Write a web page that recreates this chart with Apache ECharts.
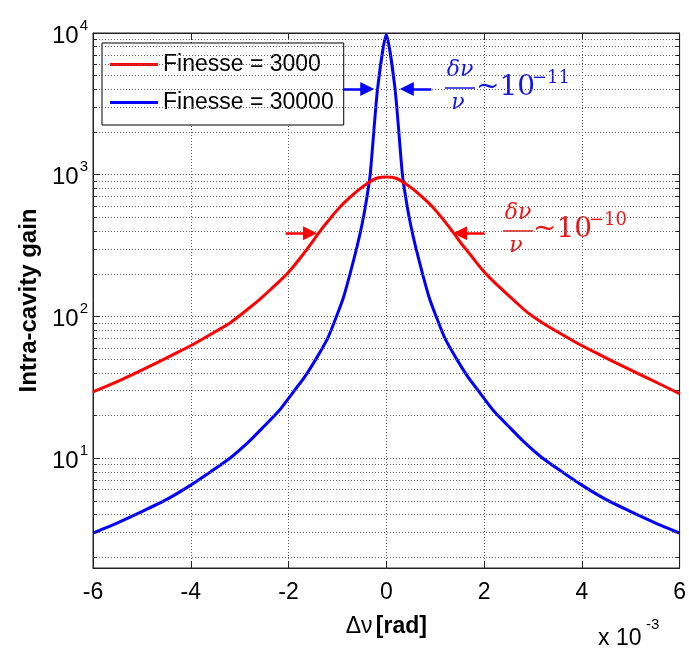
<!DOCTYPE html>
<html>
<head>
<meta charset="utf-8">
<script src="https://cdn.jsdelivr.net/npm/echarts@6/dist/echarts.min.js"></script>
<style>html,body{margin:0;padding:0;background:#fff}#c{width:689px;height:653px}</style>
</head>
<body>
<div id="c"></div>
<script>
// ---- data (x in units of 1e-3 rad) ----
const seriesNames = ['Finesse = 3000', 'Finesse = 30000'];
const redX = [-6.0, -5.4, -4.9, -4.4, -3.9, -3.5, -3.2, -2.9, -2.6, -2.3, -2.0, -1.7, -1.55, -1.35, -1.15, -1.0, -0.86, -0.68, -0.52, -0.37, -0.2, 0,
              0.2, 0.37, 0.52, 0.68, 0.86, 1.0, 1.15, 1.35, 1.55, 1.7, 2.0, 2.3, 2.6, 2.9, 3.2, 3.5, 3.9, 4.4, 4.9, 5.4, 6.0];
const redY = [29.4, 36, 43.5, 53, 65, 78, 90, 108, 131, 163, 205, 275, 322, 402, 490, 565, 635, 725, 805, 875, 945, 965,
              945, 875, 805, 725, 635, 565, 490, 400, 322, 278, 207, 163, 131, 106, 90, 78, 65, 53, 43.5, 36, 28.5];
const blueX = [-6.0, -5.5, -5.0, -4.5, -4.05, -3.6, -3.2, -2.8, -2.5, -2.2, -1.88, -1.68, -1.44, -1.2, -1.02, -0.88, -0.75, -0.6, -0.5, -0.42, -0.33, -0.18, 0,
               0.18, 0.33, 0.42, 0.5, 0.6, 0.75, 0.88, 1.02, 1.2, 1.44, 1.68, 1.88, 2.2, 2.5, 2.8, 3.2, 3.6, 4.05, 4.5, 5.0, 5.5, 6.0];
const blueY = [2.96, 3.5, 4.2, 5.1, 6.3, 8.0, 10, 13.2, 16.8, 21.5, 30, 37, 50, 70, 100, 135, 195, 310, 440, 620, 1000, 4000, 9800,
               4000, 1000, 620, 440, 310, 195, 135, 100, 70, 50, 37, 30, 21.5, 16.8, 13.2, 10, 8.0, 6.3, 5.1, 4.2, 3.5, 2.96];
const xMin = -6, xMax = 6, xStep = 2;
const yMin = 1.68, yMax = 10000;
const yMinorGrid = [2,3,4,5,6,7,8,9,20,30,40,50,60,70,80,90,200,300,400,500,600,700,800,900,2000,3000,4000,5000,6000,7000,8000,9000];
const minorTickLen = 0.08; // in x units (short inward tick)
// annotation arrows: [xStart, xEnd, y]
const blueArrows = [[-0.88, -0.39, 4020], [0.92, 0.42, 4020]];
const redArrows = [[-2.06, -1.56, 387], [2.01, 1.51, 387]];

const RED = '#ff0000', BLUE = '#0000ff';
const zip = (xs, ys) => xs.map((x, i) => [x, ys[i]]);
const arrowData = arr => arr.map(a => [{coord: [a[0], a[2]]}, {coord: [a[1], a[2]]}]);
const minorTickData = [].concat(
  yMinorGrid.map(v => [{coord: [xMin, v]}, {coord: [xMin + minorTickLen, v]}]),
  yMinorGrid.map(v => [{coord: [xMax, v]}, {coord: [xMax - minorTickLen, v]}])
);

const chart = echarts.init(document.getElementById('c'), null, {renderer: 'canvas'});
const axisCol = '#222';
const gridDot = {color: '#555', width: 1, type: [1, 2]};
const mathFont = "'DejaVu Serif', 'Liberation Serif', serif";
const sansFont = "'Liberation Sans', Arial, sans-serif";

function frac(cx, barY, color, width) {
  return [
    {type: 'text', style: {x: cx, y: barY - 18, text: 'δν', font: 'italic 22px ' + mathFont, fill: color, align: 'center', verticalAlign: 'middle'}},
    {type: 'line', shape: {x1: cx - width / 2, y1: barY, x2: cx + width / 2, y2: barY}, style: {stroke: color, lineWidth: 1.5}},
    {type: 'text', style: {x: cx - 2, y: barY + 15, text: 'ν', font: 'italic 22px ' + mathFont, fill: color, align: 'center', verticalAlign: 'middle'}}
  ];
}

const boxAxis = {
  axisLine: {show: true, onZero: false, lineStyle: {color: axisCol}},
  axisTick: {show: true, inside: true, length: 7, lineStyle: {color: axisCol}},
  axisLabel: {show: false}, splitLine: {show: false}
};

const option = {
  animation: false,
  textStyle: {fontFamily: sansFont},
  grid: {left: 93, right: 6, top: 33, bottom: 85, show: true, borderColor: axisCol, borderWidth: 1, backgroundColor: '#fff'},
  legend: {
    data: seriesNames,
    orient: 'vertical',
    left: 102, top: 43,
    itemWidth: 48, itemHeight: 3, itemGap: 15,
    padding: [10, 10, 11, 8],
    borderColor: '#000', borderWidth: 1, backgroundColor: '#fff',
    textStyle: {fontSize: 23, color: '#000', fontFamily: sansFont},
    icon: 'rect'
  },
  xAxis: [{
    type: 'value', min: xMin, max: xMax, interval: xStep,
    name: '{n|Δν} {b|[rad]}', nameLocation: 'middle', nameGap: 47,
    nameTextStyle: {rich: {n: {fontSize: 23, color: '#000', fontFamily: sansFont}, b: {fontSize: 23, fontWeight: 'bold', color: '#000', fontFamily: sansFont}}},
    axisLine: {show: true, onZero: false, lineStyle: {color: axisCol}},
    axisTick: {show: true, inside: true, length: 7, lineStyle: {color: axisCol}},
    axisLabel: {fontSize: 23, color: '#000', margin: 13},
    splitLine: {show: true, lineStyle: gridDot}
  }, Object.assign({type: 'value', min: xMin, max: xMax, interval: xStep, position: 'top'}, boxAxis)],
  yAxis: [{
    type: 'log', logBase: 10, min: yMin, max: yMax,
    name: 'Intra-cavity gain', nameLocation: 'middle', nameGap: 50,
    nameTextStyle: {fontSize: 24, fontWeight: 'bold', color: '#000', fontFamily: sansFont},
    axisLine: {show: true, onZero: false, lineStyle: {color: axisCol}},
    axisTick: {show: true, inside: true, length: 7, lineStyle: {color: axisCol}},
    axisLabel: {
      margin: 5, showMinLabel: false,
      formatter: v => {
        const e = Math.round(Math.log10(v));
        if (Math.abs(Math.log10(v) - e) > 1e-6) return '';
        return '{b|10}{s|' + e + '}';
      },
      rich: {
        b: {fontSize: 24, color: '#000', fontFamily: sansFont, lineHeight: 30, verticalAlign: 'bottom'},
        s: {fontSize: 15, color: '#000', fontFamily: sansFont, verticalAlign: 'top', padding: [0, 0, 0, 1]}
      }
    },
    splitLine: {show: true, lineStyle: gridDot}
  }, Object.assign({type: 'log', logBase: 10, min: yMin, max: yMax, position: 'right'}, boxAxis)],
  series: [
    {
      name: 'minorgrid', type: 'line', data: [[0, 100]], symbol: 'none', silent: true,
      lineStyle: {opacity: 0}, z: 1, legendHoverLink: false,
      markLine: {
        silent: true, symbol: ['none', 'none'], animation: false,
        label: {show: false},
        lineStyle: {color: '#666', width: 1, type: [1, 2]},
        emphasis: {disabled: true},
        data: yMinorGrid.map(v => ({yAxis: v}))
      }
    },
    {
      name: 'minorticks', type: 'line', data: [[0, 100]], symbol: 'none', silent: true,
      lineStyle: {opacity: 0}, z: 2, legendHoverLink: false,
      markLine: {
        silent: true, symbol: ['none', 'none'], animation: false,
        label: {show: false},
        lineStyle: {color: axisCol, width: 1, type: 'solid'},
        emphasis: {disabled: true},
        data: minorTickData
      }
    },
    {
      name: seriesNames[0], type: 'line', data: zip(redX, redY), symbol: 'none', showSymbol: false,
      smooth: 0.4,
      lineStyle: {color: RED, width: 3}, itemStyle: {color: RED}, z: 5,
      markLine: {
        silent: true, symbol: ['none', 'triangle'], symbolSize: 14, animation: false,
        label: {show: false}, lineStyle: {color: RED, width: 2.5, type: 'solid'},
        itemStyle: {color: RED},
        emphasis: {disabled: true},
        data: arrowData(redArrows)
      }
    },
    {
      name: seriesNames[1], type: 'line', data: zip(blueX, blueY), symbol: 'none', showSymbol: false,
      smooth: 0.2,
      lineStyle: {color: BLUE, width: 3}, itemStyle: {color: BLUE}, z: 4,
      markLine: {
        silent: true, symbol: ['none', 'triangle'], symbolSize: 14, animation: false,
        label: {show: false}, lineStyle: {color: BLUE, width: 2.5, type: 'solid'},
        itemStyle: {color: BLUE},
        emphasis: {disabled: true},
        data: arrowData(blueArrows)
      }
    }
  ],
  graphic: [
    ...frac(460, 88, '#1414e6', 30),
    {type: 'text', style: {x: 476, y: 88, text: '~10', font: '28px ' + mathFont, fill: '#1414e6', verticalAlign: 'middle'}},
    {type: 'text', style: {x: 532, y: 78, text: '−11', font: '18px ' + mathFont, fill: '#1414e6', verticalAlign: 'middle'}},
    ...frac(518, 231, '#f01414', 30),
    {type: 'text', style: {x: 533, y: 230, text: '~10', font: '28px ' + mathFont, fill: '#f01414', verticalAlign: 'middle'}},
    {type: 'text', style: {x: 589, y: 220, text: '−10', font: '18px ' + mathFont, fill: '#f01414', verticalAlign: 'middle'}},
    {type: 'text', style: {x: 598, y: 639, text: 'x 10', font: '23px ' + sansFont, fill: '#000', verticalAlign: 'middle'}},
    {type: 'text', style: {x: 646, y: 625, text: '-3', font: '15px ' + sansFont, fill: '#000', verticalAlign: 'middle'}}
  ]
};
chart.setOption(option);
</script>
</body>
</html>
